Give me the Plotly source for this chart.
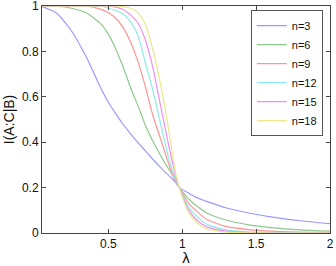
import plotly.graph_objects as go

lam = [0.05, 0.15, 0.25, 0.35, 0.45, 0.5, 0.55, 0.6, 0.65, 0.7, 0.75, 0.8, 0.85,
       0.9, 0.93, 0.955, 0.98, 1.04, 1.1, 1.17, 1.3, 1.45, 1.6, 1.8, 2.0]

n3 = [0.997, 0.968, 0.89, 0.775, 0.635, 0.575, 0.525, 0.478, 0.437, 0.398, 0.362, 0.325, 0.29,
      0.258, 0.24, 0.222, 0.2, 0.177, 0.155, 0.138, 0.11, 0.088, 0.071, 0.054, 0.041]
n6 = [1.0, 0.999, 0.99, 0.97, 0.92, 0.875, 0.81, 0.73, 0.64, 0.56, 0.475, 0.405, 0.345,
      0.29, 0.26, 0.23, 0.2, 0.152, 0.118, 0.087, 0.056, 0.036, 0.024, 0.014, 0.008]
n9 = [1.0, 1.0, 1.0, 1.0, 0.985, 0.97, 0.945, 0.905, 0.84, 0.755, 0.645, 0.52, 0.42,
      0.32, 0.265, 0.228, 0.2, 0.133, 0.094, 0.058, 0.028, 0.015, 0.008, 0.004, 0.002]
n12 = [1.0, 1.0, 1.0, 1.0, 1.0, 0.99, 0.98, 0.965, 0.93, 0.87, 0.75, 0.63, 0.49,
       0.35, 0.28, 0.235, 0.2, 0.116, 0.072, 0.037, 0.013, 0.005, 0.002, 0.001, 0.0]
n15 = [1.0, 1.0, 1.0, 1.0, 1.0, 1.0, 0.995, 0.985, 0.96, 0.925, 0.85, 0.73, 0.57,
       0.41, 0.32, 0.25, 0.2, 0.104, 0.056, 0.026, 0.008, 0.002, 0.0, 0.0, 0.0]
n18 = [1.0, 1.0, 1.0, 1.0, 1.0, 1.0, 1.0, 0.997, 0.99, 0.97, 0.92, 0.81, 0.665,
       0.485, 0.36, 0.263, 0.2, 0.094, 0.045, 0.017, 0.004, 0.001, 0.0, 0.0, 0.0]

series_names = ["n=3", "n=6", "n=9", "n=12", "n=15", "n=18"]
series_vals = [n3, n6, n9, n12, n15, n18]
colors = ["#9999ff", "#8fc88f", "#ff9494", "#8eeaea", "#f08ef0", "#e8e88c"]

x_ticks = [0.5, 1, 1.5, 2]
x_ticklabels = ["0.5", "1", "1.5", "2"]
y_ticks = [0, 0.2, 0.4, 0.6, 0.8, 1]
y_ticklabels = ["0", "0.2", "0.4", "0.6", "0.8", "1"]

FONT = "Liberation Sans, Arial"

fig = go.Figure()
for name, vals, c in zip(series_names, series_vals, colors):
    fig.add_trace(go.Scatter(x=lam, y=vals, mode="lines", name=name,
                             line=dict(color=c, width=1.2, shape="spline", smoothing=0.6)))

axis_common = dict(showline=True, linecolor="#444444", linewidth=1, mirror="ticks",
                   ticks="inside", ticklen=4, tickcolor="#444444", showgrid=False,
                   zeroline=False, automargin=False, ticklabeloverflow="allow",
                   tickfont=dict(family=FONT, size=12, color="#111111"))

fig.update_xaxes(range=[0.05, 2], tickvals=x_ticks, ticktext=x_ticklabels,
                 title=dict(text="λ", font=dict(family=FONT, size=15, color="#111111"),
                            standoff=0), **axis_common)
fig.update_yaxes(range=[0, 1], tickvals=y_ticks, ticktext=y_ticklabels,
                 title=dict(text="I(A:C|B)", font=dict(family=FONT, size=14, color="#111111"),
                            standoff=4), **axis_common)

fig.update_layout(
    width=336, height=266,
    margin=dict(l=42, r=6, t=6, b=33),
    paper_bgcolor="white", plot_bgcolor="white",
    showlegend=True,
    legend=dict(x=0.975, y=0.982, xanchor="right", yanchor="top",
                bgcolor="white", bordercolor="#555555", borderwidth=1,
                font=dict(family=FONT, size=11, color="#111111"),
                tracegroupgap=0, itemwidth=30),
)

fig.write_html("out.html", config={"displayModeBar": False},
               post_script="document.body.style.margin='0';")
